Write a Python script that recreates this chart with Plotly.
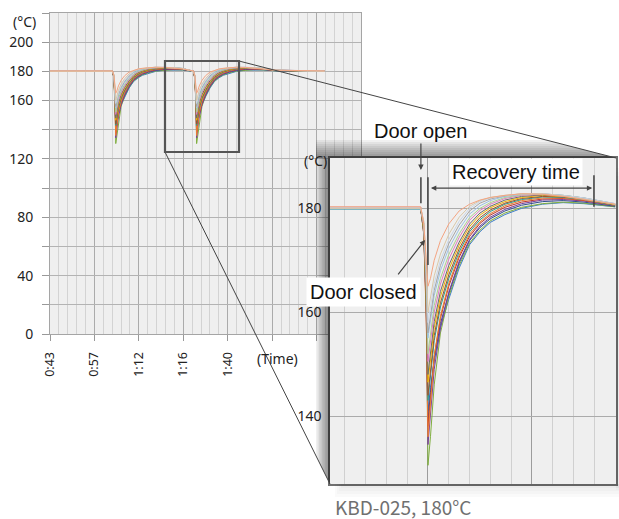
import plotly.graph_objects as go

W, H = 619, 519

# ---------------- data ----------------
MAIN_X_TICKS = [0, 5, 10, 15, 20, 25, 30, 35]
MAIN_X_LABELS = ["0:43", "0:57", "1:12", "1:16", "1:40", "", "", ""]
MAIN_Y_TICKS = [0, 20, 40, 60, 80, 100, 120, 140, 160, 180, 200, 220]
MAIN_Y_LABELS = ["0", "", "40", "", "80", "", "120", "", "160", "180", "200", ""]
INSET_X_TICKS = [0, 5]
INSET_Y_TICKS = [140, 160, 180]
INSET_Y_LABELS = ["140", "160", "180"]

RUN_START = 0.0          # main chart time units
RUN_END = 30.9
DIP_TIMES = [7.4, 16.5]  # door events on main time axis
FIRST_DIP_TAIL = 7.5     # first dip shown until this relative time
INSET_START = -4.8

# time relative to door closing (inset units)
T_REL = [-0.35, -0.2, -0.08, 0.0, 0.12, 0.3, 0.6, 1.0, 1.5, 2.0, 2.5, 3.0, 3.7, 4.5, 5.5, 6.5, 7.5, 9.0]

S_BLUE   = [179.9, 176.0, 164.0, 141.0, 145.5, 150.5, 157.0, 162.5, 168.5, 173.0, 175.5, 177.3, 178.8, 180.0, 180.8, 181.1, 180.9, 180.3]
S_GREEN  = [180.0, 175.0, 160.0, 130.5, 136.0, 146.0, 156.0, 163.0, 169.0, 173.3, 175.8, 177.6, 179.1, 180.2, 180.9, 181.2, 181.0, 180.3]
S_NAVY   = [180.1, 175.5, 161.0, 139.0, 144.5, 151.0, 157.8, 163.6, 169.5, 173.8, 176.3, 178.0, 179.5, 180.6, 181.3, 181.5, 181.2, 180.4]
S_PURPLE = [180.0, 175.0, 159.0, 134.5, 141.0, 149.0, 157.0, 163.8, 169.8, 174.0, 176.6, 178.3, 179.8, 180.9, 181.6, 181.7, 181.4, 180.5]
S_RED    = [180.1, 175.5, 160.0, 138.0, 144.0, 151.5, 158.8, 165.0, 170.6, 174.6, 177.1, 178.7, 180.2, 181.2, 181.8, 181.9, 181.5, 180.6]
S_ORANGE = [180.2, 175.0, 158.0, 136.0, 143.0, 151.5, 159.3, 165.5, 171.0, 175.0, 177.4, 179.0, 180.5, 181.5, 182.0, 182.0, 181.6, 180.6]
S_TEAL   = [179.9, 175.5, 161.0, 143.0, 148.0, 154.5, 161.0, 166.5, 171.6, 175.5, 177.8, 179.4, 180.8, 181.7, 182.2, 182.1, 181.7, 180.6]
S_BROWN  = [180.0, 176.0, 162.0, 144.0, 149.0, 155.5, 161.8, 167.2, 172.2, 175.9, 178.2, 179.7, 181.0, 181.9, 182.3, 182.2, 181.8, 180.7]
S_GOLD   = [180.1, 176.0, 163.0, 146.5, 151.0, 157.0, 163.0, 168.2, 172.9, 176.5, 178.7, 180.1, 181.3, 182.1, 182.5, 182.3, 181.9, 180.7]
S_DGRAY  = [180.0, 176.5, 164.0, 148.0, 152.5, 158.2, 164.0, 169.0, 173.5, 177.0, 179.1, 180.4, 181.6, 182.3, 182.6, 182.4, 181.9, 180.8]
S_PINK   = [180.2, 176.5, 165.0, 150.5, 154.5, 160.0, 165.4, 170.2, 174.4, 177.7, 179.6, 180.8, 181.9, 182.5, 182.7, 182.4, 181.9, 180.8]
S_LGREEN = [180.1, 177.0, 166.0, 152.0, 156.0, 161.3, 166.5, 171.1, 175.1, 178.2, 180.0, 181.1, 182.1, 182.6, 182.7, 182.5, 182.0, 180.8]
S_LBLUE  = [180.0, 177.0, 167.0, 155.0, 158.5, 163.2, 168.0, 172.3, 176.0, 178.9, 180.5, 181.5, 182.3, 182.7, 182.8, 182.5, 182.0, 180.9]
S_GRAY   = [180.1, 177.0, 167.5, 156.0, 159.5, 164.2, 169.0, 173.2, 176.8, 179.5, 181.0, 181.8, 182.4, 182.8, 182.8, 182.5, 182.0, 180.9]
S_PALE   = [180.2, 177.5, 168.5, 158.0, 161.0, 165.5, 170.0, 174.0, 177.5, 180.0, 181.3, 182.0, 182.5, 182.8, 182.8, 182.5, 182.0, 180.9]
S_BEIGE  = [180.0, 177.5, 169.0, 160.0, 163.0, 167.0, 171.2, 175.0, 178.3, 180.4, 181.5, 182.1, 182.5, 182.8, 182.8, 182.4, 181.8, 180.8]
S_SALMON = [180.3, 177.0, 170.0, 165.0, 166.5, 170.0, 173.8, 177.0, 179.5, 180.8, 181.6, 182.1, 182.5, 182.8, 182.7, 182.3, 181.7, 180.8]

SERIES = [S_BLUE, S_GREEN, S_NAVY, S_PURPLE, S_RED, S_ORANGE, S_TEAL, S_BROWN, S_GOLD,
          S_DGRAY, S_PINK, S_LGREEN, S_LBLUE, S_GRAY, S_PALE, S_BEIGE, S_SALMON]
COLORS = ["#3d7cc9", "#7fae3e", "#2f4f8f", "#7a3f9d", "#c0392b", "#ed7d31", "#2a9d8f", "#a0522d",
          "#f0b400", "#6b6b6b", "#e377c2", "#a9d18e", "#9dc3e6", "#a5a5a5", "#c9d6e8", "#d9c8a9", "#f4a582"]

CAPTION = "KBD-025, 180°C"

# ---------------- figure ----------------
fig = go.Figure()

for vals, col in zip(SERIES, COLORS):
    mx, my = [RUN_START], [vals[0]]
    for t, v in zip(T_REL, vals):
        if t <= FIRST_DIP_TAIL:
            mx.append(DIP_TIMES[0] + t)
            my.append(v)
    for t, v in zip(T_REL, vals):
        mx.append(DIP_TIMES[1] + t)
        my.append(v)
    mx.append(RUN_END)
    my.append(vals[0])
    fig.add_trace(go.Scatter(x=mx, y=my, mode="lines", line=dict(color=col, width=1),
                             xaxis="x", yaxis="y", showlegend=False, hoverinfo="skip"))

for vals, col in zip(SERIES, COLORS):
    fig.add_trace(go.Scatter(x=[INSET_START] + T_REL, y=[vals[0]] + vals, mode="lines",
                             line=dict(color=col, width=1.0),
                             xaxis="x2", yaxis="y2", showlegend=False, hoverinfo="skip"))


def px(x):
    return x / W


def py(y):
    return 1 - y / H


tickfont = dict(family="Noto Sans, Open Sans, sans-serif", size=14, color="#222")

fig.update_layout(
    width=W, height=H,
    margin=dict(l=0, r=0, t=0, b=0, pad=0, autoexpand=False),
    paper_bgcolor="white",
    plot_bgcolor="#efefef",
    showlegend=False,
    xaxis=dict(domain=[px(50), px(361)], anchor="y", range=[0, 35], automargin=False,
               tickmode="array", tickvals=MAIN_X_TICKS, ticktext=MAIN_X_LABELS,
               tickangle=-90, tickfont=dict(tickfont, size=12.5),
               ticks="outside", ticklen=6, tickcolor="#999", ticklabelstandoff=6,
               showgrid=True, gridcolor="#ababab", gridwidth=1,
               minor=dict(tickmode="linear", tick0=0, dtick=1, showgrid=True,
                          gridcolor="#d3d3d3", gridwidth=1, ticks=""),
               showline=True, mirror=True, linecolor="#a5a5a5", linewidth=1,
               zeroline=False, fixedrange=True),
    yaxis=dict(domain=[py(334), py(13)], anchor="x", range=[0, 220], automargin=False,
               tickmode="array", tickvals=MAIN_Y_TICKS, ticktext=MAIN_Y_LABELS,
               tickfont=tickfont, ticks="outside", ticklen=7, tickcolor="#999",
               ticklabelstandoff=6,
               showgrid=True, gridcolor="#b3b3b3", gridwidth=1,
               showline=True, mirror=True, linecolor="#a5a5a5", linewidth=1,
               zeroline=False, fixedrange=True),
    xaxis2=dict(domain=[px(330), px(616)], anchor="y2", range=[-4.71, 9.04], automargin=False,
                tickmode="array", tickvals=INSET_X_TICKS, showticklabels=False, ticks="",
                showgrid=True, gridcolor="#9c9c9c", gridwidth=1.2,
                minor=dict(tickmode="linear", tick0=0, dtick=1, showgrid=True,
                           gridcolor="#d0d0d0", gridwidth=1.2, ticks=""),
                showline=True, mirror=True, linecolor="#707070", linewidth=1.5,
                zeroline=False, fixedrange=True),
    yaxis2=dict(domain=[py(484), py(158)], anchor="x2", range=[126.9, 189.7], automargin=False,
                tickmode="array", tickvals=INSET_Y_TICKS, ticktext=INSET_Y_LABELS,
                tickfont=tickfont, ticks="", ticklabelstandoff=4,
                showgrid=True, gridcolor="#ababab", gridwidth=1.2,
                showline=True, mirror=True, linecolor="#707070", linewidth=1.5,
                zeroline=False, fixedrange=True),
)

shapes = []


def poly(points):
    return "M " + " L ".join(f"{px(x):.5f},{py(y):.5f}" for x, y in points) + " Z"


# connector line geometry (pixels)
TOP_A, TOP_B = (239, 61), (616, 158)
BOT_A, BOT_B = (165, 152), (330, 484)


def top_line_x(y):
    return TOP_A[0] + (y - TOP_A[1]) * (TOP_B[0] - TOP_A[0]) / (TOP_B[1] - TOP_A[1])


def bot_line_y(x):
    return BOT_A[1] + (x - BOT_A[0]) * (BOT_B[1] - BOT_A[1]) / (BOT_B[0] - BOT_A[0])


# top shadow (gradient by stacking)
for k in range(9):
    yk = 140 + k * 2
    xl = top_line_x(yk)
    shapes.append(dict(type="path", xref="paper", yref="paper", layer="above",
                       path=poly([(316, yk), (xl, yk), (616, 158), (316, 158)]),
                       fillcolor="rgba(0,0,0,0.055)", line=dict(width=0)))
# left shadow
for k in range(9):
    xk = 316 + k * 1.5
    shapes.append(dict(type="path", xref="paper", yref="paper", layer="above",
                       path=poly([(xk, 158), (330, 158), (330, 484), (xk, bot_line_y(xk))]),
                       fillcolor="rgba(0,0,0,0.06)", line=dict(width=0)))
# faint bottom / right shadow
for k in range(4):
    shapes.append(dict(type="rect", xref="paper", yref="paper", layer="above",
                       x0=px(335 + k * 2), x1=px(619), y0=py(484), y1=py(497 - k * 3),
                       fillcolor="rgba(0,0,0,0.02)", line=dict(width=0)))
    shapes.append(dict(type="rect", xref="paper", yref="paper", layer="above",
                       x0=px(616), x1=px(619), y0=py(490 - k * 2), y1=py(168 + k * 4),
                       fillcolor="rgba(0,0,0,0.02)", line=dict(width=0)))

# connectors and zoom box
shapes.append(dict(type="line", xref="paper", yref="paper", layer="above",
                   x0=px(TOP_A[0]), y0=py(TOP_A[1]), x1=px(TOP_B[0]), y1=py(TOP_B[1]),
                   line=dict(color="#444", width=1)))
shapes.append(dict(type="line", xref="paper", yref="paper", layer="above",
                   x0=px(BOT_A[0]), y0=py(BOT_A[1]), x1=px(BOT_B[0]), y1=py(BOT_B[1]),
                   line=dict(color="#444", width=1)))
shapes.append(dict(type="rect", xref="paper", yref="paper", layer="above",
                   x0=px(165), x1=px(239), y0=py(152), y1=py(61),
                   line=dict(color="#555", width=2.2), fillcolor="rgba(0,0,0,0)"))

# event markers in inset
for x0, ya, yb in [(-0.34, 181.0, 186.0), (0.0, 169.1, 186.0), (7.98, 180.3, 186.4)]:
    shapes.append(dict(type="line", xref="x2", yref="y2", layer="above",
                       x0=x0, x1=x0, y0=ya, y1=yb, line=dict(color="#3f3f3f", width=1.5)))

fig.update_layout(shapes=shapes)

afont = dict(family="Liberation Sans, Arial, sans-serif", size=20, color="#111")
C = dict(xanchor="center", yanchor="middle")
anns = [
    dict(text="Door open", xref="x2", yref="y2", x=-0.34, y=187.4,
         axref="x2", ayref="y2", ax=-0.34, ay=194.9, showarrow=True,
         arrowhead=2, arrowsize=0.9, arrowwidth=1.2, arrowcolor="#444", font=afont, **C),
    dict(text="Door closed", xref="x2", yref="y2", x=-3.08, y=163.9, showarrow=False,
         bgcolor="white", borderpad=3, font=afont, **C),
    dict(text="", xref="x2", yref="y2", x=-0.14, y=173.9, axref="x2", ayref="y2",
         ax=-1.49, ay=167.0, showarrow=True, arrowhead=2, arrowsize=0.9,
         arrowwidth=1.2, arrowcolor="#444"),
    dict(text="Recovery time", xref="x2", yref="y2", x=4.23, y=187.0, showarrow=False,
         bgcolor="white", borderpad=2, font=afont, **C),
    dict(text="", xref="x2", yref="y2", x=7.9, y=183.9, axref="x2", ayref="y2",
         ax=0.07, ay=183.9, showarrow=True, arrowhead=2, arrowside="end+start",
         arrowsize=0.9, arrowwidth=1.2, arrowcolor="#444"),
    dict(text="(Time)", xref="paper", yref="paper", x=px(277), y=py(358), showarrow=False,
         font=tickfont, **C),
    dict(text="(°C)", xref="paper", yref="paper", x=px(24), y=py(21), showarrow=False,
         font=tickfont, **C),
    dict(text="(°C)", xref="paper", yref="paper", x=px(315), y=py(161), showarrow=False,
         font=tickfont, **C),
    dict(text=CAPTION, xref="paper", yref="paper", x=px(403), y=py(506), showarrow=False,
         font=dict(family="Noto Sans CJK JP, Noto Sans, sans-serif", size=19, color="#707070"), **C),
]
fig.update_layout(annotations=anns)

fig.write_html("out.html", config={"displayModeBar": False},
               post_script="document.body.style.margin='0';")
